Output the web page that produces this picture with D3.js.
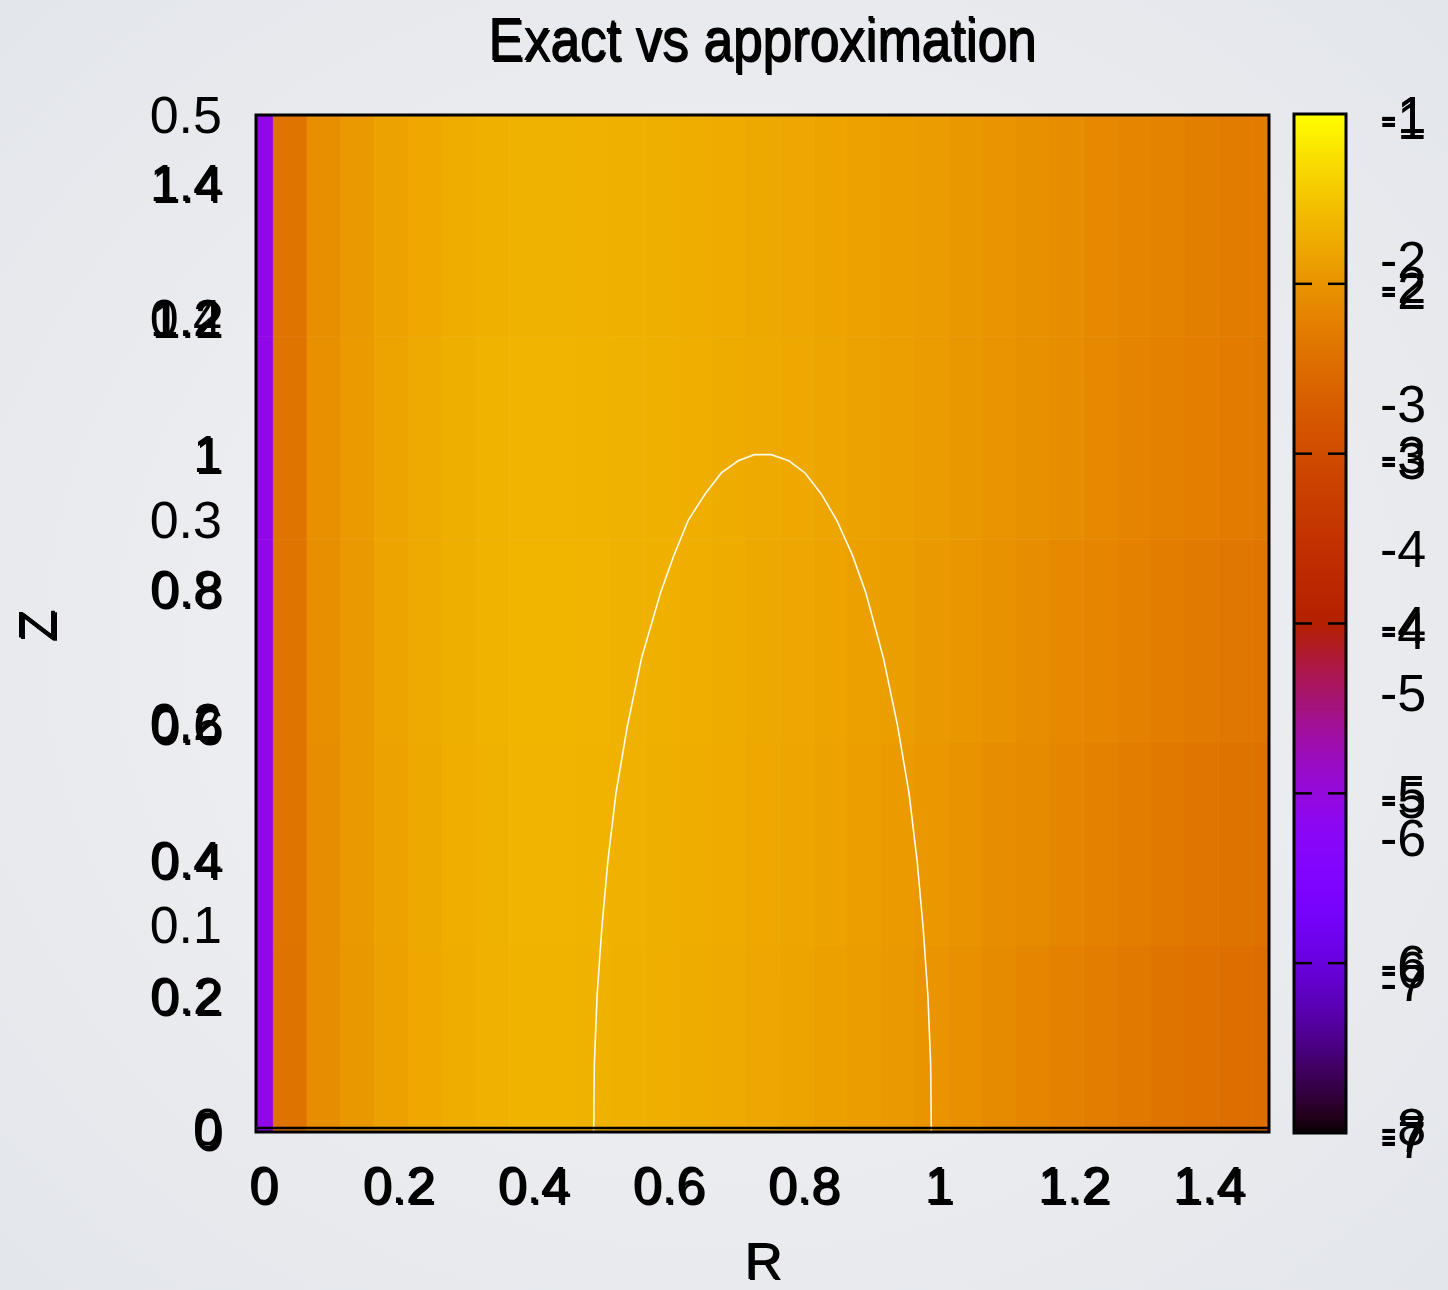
<!DOCTYPE html>
<html>
<head>
<meta charset="utf-8">
<script src="https://cdnjs.cloudflare.com/ajax/libs/d3/7.8.5/d3.min.js"></script>
<style>
  body { margin: 0; background: #eef0f3; }
  svg { display: block; }
  text { font-family: "Liberation Sans", Arial, sans-serif; }
</style>
</head>
<body>
<div id="chart"></div>
<script>
// column centres (R) and row bands (Z) of the map
var rCenters = [0, 0.05, 0.1, 0.15, 0.2, 0.25, 0.3, 0.35, 0.4, 0.45, 0.5, 0.55, 0.6, 0.65, 0.7, 0.75,
                0.8, 0.85, 0.9, 0.95, 1.0, 1.05, 1.1, 1.15, 1.2, 1.25, 1.3, 1.35, 1.4, 1.45, 1.5];
var zEdges = [0, 0.275, 0.575, 0.875, 1.175, 1.5];

// log10 error, one row per Z band (bottom to top)
var errRow0 = [-5.08, -2.40, -2.07, -1.95, -1.85, -1.78, -1.73, -1.69, -1.67, -1.67, -1.68, -1.70, -1.72, -1.74, -1.76, -1.79,
               -1.82, -1.86, -1.90, -1.94, -1.99, -2.04, -2.10, -2.16, -2.21, -2.27, -2.33, -2.38, -2.42, -2.46, -2.48];
var errRow1 = [-5.08, -2.39, -2.06, -1.94, -1.84, -1.77, -1.72, -1.68, -1.66, -1.66, -1.67, -1.69, -1.71, -1.73, -1.75, -1.78,
               -1.81, -1.84, -1.88, -1.92, -1.96, -2.01, -2.06, -2.11, -2.16, -2.21, -2.27, -2.32, -2.36, -2.40, -2.42];
var errRow2 = [-5.08, -2.39, -2.05, -1.93, -1.83, -1.76, -1.71, -1.67, -1.65, -1.65, -1.66, -1.68, -1.70, -1.72, -1.74, -1.77,
               -1.79, -1.82, -1.86, -1.89, -1.93, -1.97, -2.02, -2.07, -2.12, -2.17, -2.22, -2.27, -2.31, -2.35, -2.37];
var errRow3 = [-5.08, -2.38, -2.04, -1.92, -1.82, -1.76, -1.71, -1.67, -1.66, -1.66, -1.67, -1.68, -1.70, -1.72, -1.74, -1.76,
               -1.78, -1.81, -1.84, -1.87, -1.91, -1.95, -1.99, -2.03, -2.08, -2.13, -2.18, -2.22, -2.26, -2.30, -2.32];
var errRow4 = [-5.08, -2.38, -2.05, -1.94, -1.84, -1.78, -1.73, -1.70, -1.68, -1.68, -1.69, -1.70, -1.71, -1.73, -1.75, -1.77,
               -1.79, -1.82, -1.85, -1.88, -1.91, -1.95, -1.99, -2.03, -2.07, -2.12, -2.16, -2.20, -2.24, -2.28, -2.30];
var errRows = [errRow0, errRow1, errRow2, errRow3, errRow4];

// white contour line
var contourR = [0.500, 0.501, 0.505, 0.512, 0.521, 0.533, 0.550, 0.571, 0.599, 0.619, 0.640, 0.665, 0.689, 0.714, 0.738,
                0.763, 0.789, 0.813, 0.837, 0.860, 0.883, 0.903, 0.929, 0.950, 0.967, 0.979, 0.988, 0.995, 0.999, 1.000];
var contourZ = [0.00, 0.10, 0.20, 0.30, 0.40, 0.50, 0.60, 0.70, 0.796, 0.852, 0.903, 0.942, 0.973, 0.991, 1.0,
                1.0, 0.991, 0.973, 0.942, 0.903, 0.852, 0.796, 0.70, 0.60, 0.50, 0.40, 0.30, 0.20, 0.10, 0.00];

// tick labels
var xTicks = [0, 0.2, 0.4, 0.6, 0.8, 1, 1.2, 1.4];
var zTicks = [0, 0.2, 0.4, 0.6, 0.8, 1, 1.2, 1.4];
var zTicks2 = [0, 0.1, 0.2, 0.3, 0.4, 0.5];
var cbTicks = [-1, -2, -3, -4, -5, -6, -7];
var cbTicks2 = [-1, -2, -3, -4, -5, -6, -7, -8];

var svgWidth = 1448, svgHeight = 1290;
var fontSize = 52;
var plain = d => String(d);   // gnuplot style labels, ascii hyphen

var svg = d3.select("#chart")
    .append("svg")
    .attr("width", svgWidth)
    .attr("height", svgHeight);

// soft grey background
var defs = svg.append("defs");
var bg = defs.append("radialGradient").attr("id", "bg").attr("cx", "50%").attr("cy", "50%").attr("r", "75%");
bg.append("stop").attr("offset", "0%").attr("stop-color", "#f3f4f6");
bg.append("stop").attr("offset", "100%").attr("stop-color", "#e2e5ea");
svg.append("rect").attr("width", svgWidth).attr("height", svgHeight).attr("fill", "url(#bg)");

// gnuplot default palette (rgbformulae 7,5,15)
function palette(t) {
    t = Math.max(0, Math.min(1, t));
    var r = Math.sqrt(t), g = t * t * t, b = Math.max(0, Math.sin(2 * Math.PI * t));
    return d3.rgb(r * 255, g * 255, b * 255).toString();
}

// scales
var x = d3.scaleLinear().domain([0, 1.5]).range([256, 1269]);
var y = d3.scaleLinear().domain([0, 1.5]).range([1132, 116]);
var y2 = d3.scaleLinear().domain([0, 0.5]).range([1128, 116]);
var cb = d3.scaleLinear().domain([-7, -1]).range([1133, 114]);
var cb2 = d3.scaleLinear().domain([-8, -1]).range([1128, 116]);
var tScale = d3.scaleLinear().domain([-7, -1]).range([0, 1]);
var color = function (v) { return palette(tScale(v)); };

// heat map cells
var cells = [];
errRows.forEach(function (row, j) {
    row.forEach(function (v, i) {
        cells.push({
            r0: Math.max(0, rCenters[i] - 0.025), r1: Math.min(1.5, rCenters[i] + 0.025),
            z0: zEdges[j], z1: zEdges[j + 1], v: v
        });
    });
});

svg.append("g")
    .selectAll("rect")
    .data(cells)
    .join("rect")
    .attr("x", d => x(d.r0))
    .attr("y", d => y(d.z1))
    .attr("width", d => x(d.r1) - x(d.r0) + 0.5)
    .attr("height", d => y(d.z0) - y(d.z1) + 0.5)
    .attr("fill", d => color(d.v));

// contour
var line = d3.line()
    .x(d => x(d[0]))
    .y(d => y(d[1]));
svg.append("path")
    .datum(contourR.map((r, i) => [r, contourZ[i]]))
    .attr("fill", "none")
    .attr("stroke", "#fffbea")
    .attr("stroke-width", 1.6)
    .attr("d", line);

// borders
svg.append("rect")
    .attr("x", x(0)).attr("y", y(1.5) - 1)
    .attr("width", x(1.5) - x(0)).attr("height", y(0) - y(1.5) + 1)
    .attr("fill", "none").attr("stroke", "#000").attr("stroke-width", 3);
svg.append("line")
    .attr("x1", x(0)).attr("x2", x(1.5))
    .attr("y1", y2(0)).attr("y2", y2(0))
    .attr("stroke", "#000").attr("stroke-width", 2.5);

function styleText(g, size) {
    g.select(".domain").remove();
    g.selectAll(".tick line").remove();
    g.selectAll("text").attr("font-size", size).attr("fill", "#000")
        .attr("font-family", "'Liberation Sans', Arial, sans-serif");
}

// bold (doubled) axes
[[0, 0], [2, 2]].forEach(function (off) {
    svg.append("g")
        .attr("transform", "translate(" + (off[0]) + "," + (y(0) + off[1]) + ")")
        .call(d3.axisBottom(x).tickValues(xTicks).tickSize(0).tickPadding(34).tickFormat(plain))
        .call(g => styleText(g, fontSize))
        .selectAll("text").attr("dx", 7);

    svg.append("g")
        .attr("transform", "translate(" + (x(0) + off[0]) + "," + off[1] + ")")
        .call(d3.axisLeft(y).tickValues(zTicks).tickSize(0).tickPadding(34).tickFormat(plain))
        .call(g => styleText(g, fontSize));
});

// light second Z axis
svg.append("g")
    .attr("transform", "translate(" + x(0) + ",0)")
    .call(d3.axisLeft(y2).tickValues(zTicks2).tickSize(0).tickPadding(34).tickFormat(plain))
    .call(g => styleText(g, fontSize));

// colour box
var cbX = 1294, cbW = 52;
svg.append("g")
    .selectAll("rect")
    .data(d3.range(0, 1019))
    .join("rect")
    .attr("x", cbX)
    .attr("y", d => 114 + d)
    .attr("width", cbW)
    .attr("height", 1.5)
    .attr("fill", d => color(cb.invert(114 + d + 0.5)));
svg.append("rect")
    .attr("x", cbX).attr("y", 114).attr("width", cbW).attr("height", 1019)
    .attr("fill", "none").attr("stroke", "#000").attr("stroke-width", 3);

var cbInner = cbTicks.filter(d => d > -7 && d < -1);
svg.append("g").selectAll("line.l").data(cbInner).join("line")
    .attr("x1", cbX).attr("x2", cbX + 18)
    .attr("y1", d => cb(d)).attr("y2", d => cb(d))
    .attr("stroke", "#000").attr("stroke-width", 2.5);
svg.append("g").selectAll("line.r").data(cbInner).join("line")
    .attr("x1", cbX + cbW - 18).attr("x2", cbX + cbW)
    .attr("y1", d => cb(d)).attr("y2", d => cb(d))
    .attr("stroke", "#000").attr("stroke-width", 2.5);

[-3, 3].forEach(function (dy) {
    svg.append("g")
        .attr("transform", "translate(" + (cbX + cbW) + "," + (5 + dy) + ")")
        .call(d3.axisRight(cb).tickValues(cbTicks).tickSize(0).tickPadding(34).tickFormat(plain))
        .call(g => styleText(g, fontSize));
});
svg.append("g")
    .attr("transform", "translate(" + (cbX + cbW) + ",0)")
    .call(d3.axisRight(cb2).tickValues(cbTicks2).tickSize(0).tickPadding(34).tickFormat(plain))
    .call(g => styleText(g, fontSize));

// titles
[[0, 0], [1.5, 1.5]].forEach(function (off) {
    svg.append("text")
        .attr("transform", "translate(" + (762 + off[0]) + "," + (60 + off[1]) + ") scale(1,1.15)")
        .attr("text-anchor", "middle")
        .attr("font-size", 53)
        .text("Exact vs approximation");
    svg.append("text")
        .attr("x", 763 + off[0])
        .attr("y", 1279 + off[1] * 0.5)
        .attr("text-anchor", "middle")
        .attr("font-size", fontSize)
        .text("R");
    svg.append("text")
        .attr("transform", "translate(" + (55 + off[0]) + "," + (625 + off[1]) + ") rotate(-90)")
        .attr("text-anchor", "middle")
        .attr("font-size", fontSize)
        .text("Z");
});
</script>
</body>
</html>
